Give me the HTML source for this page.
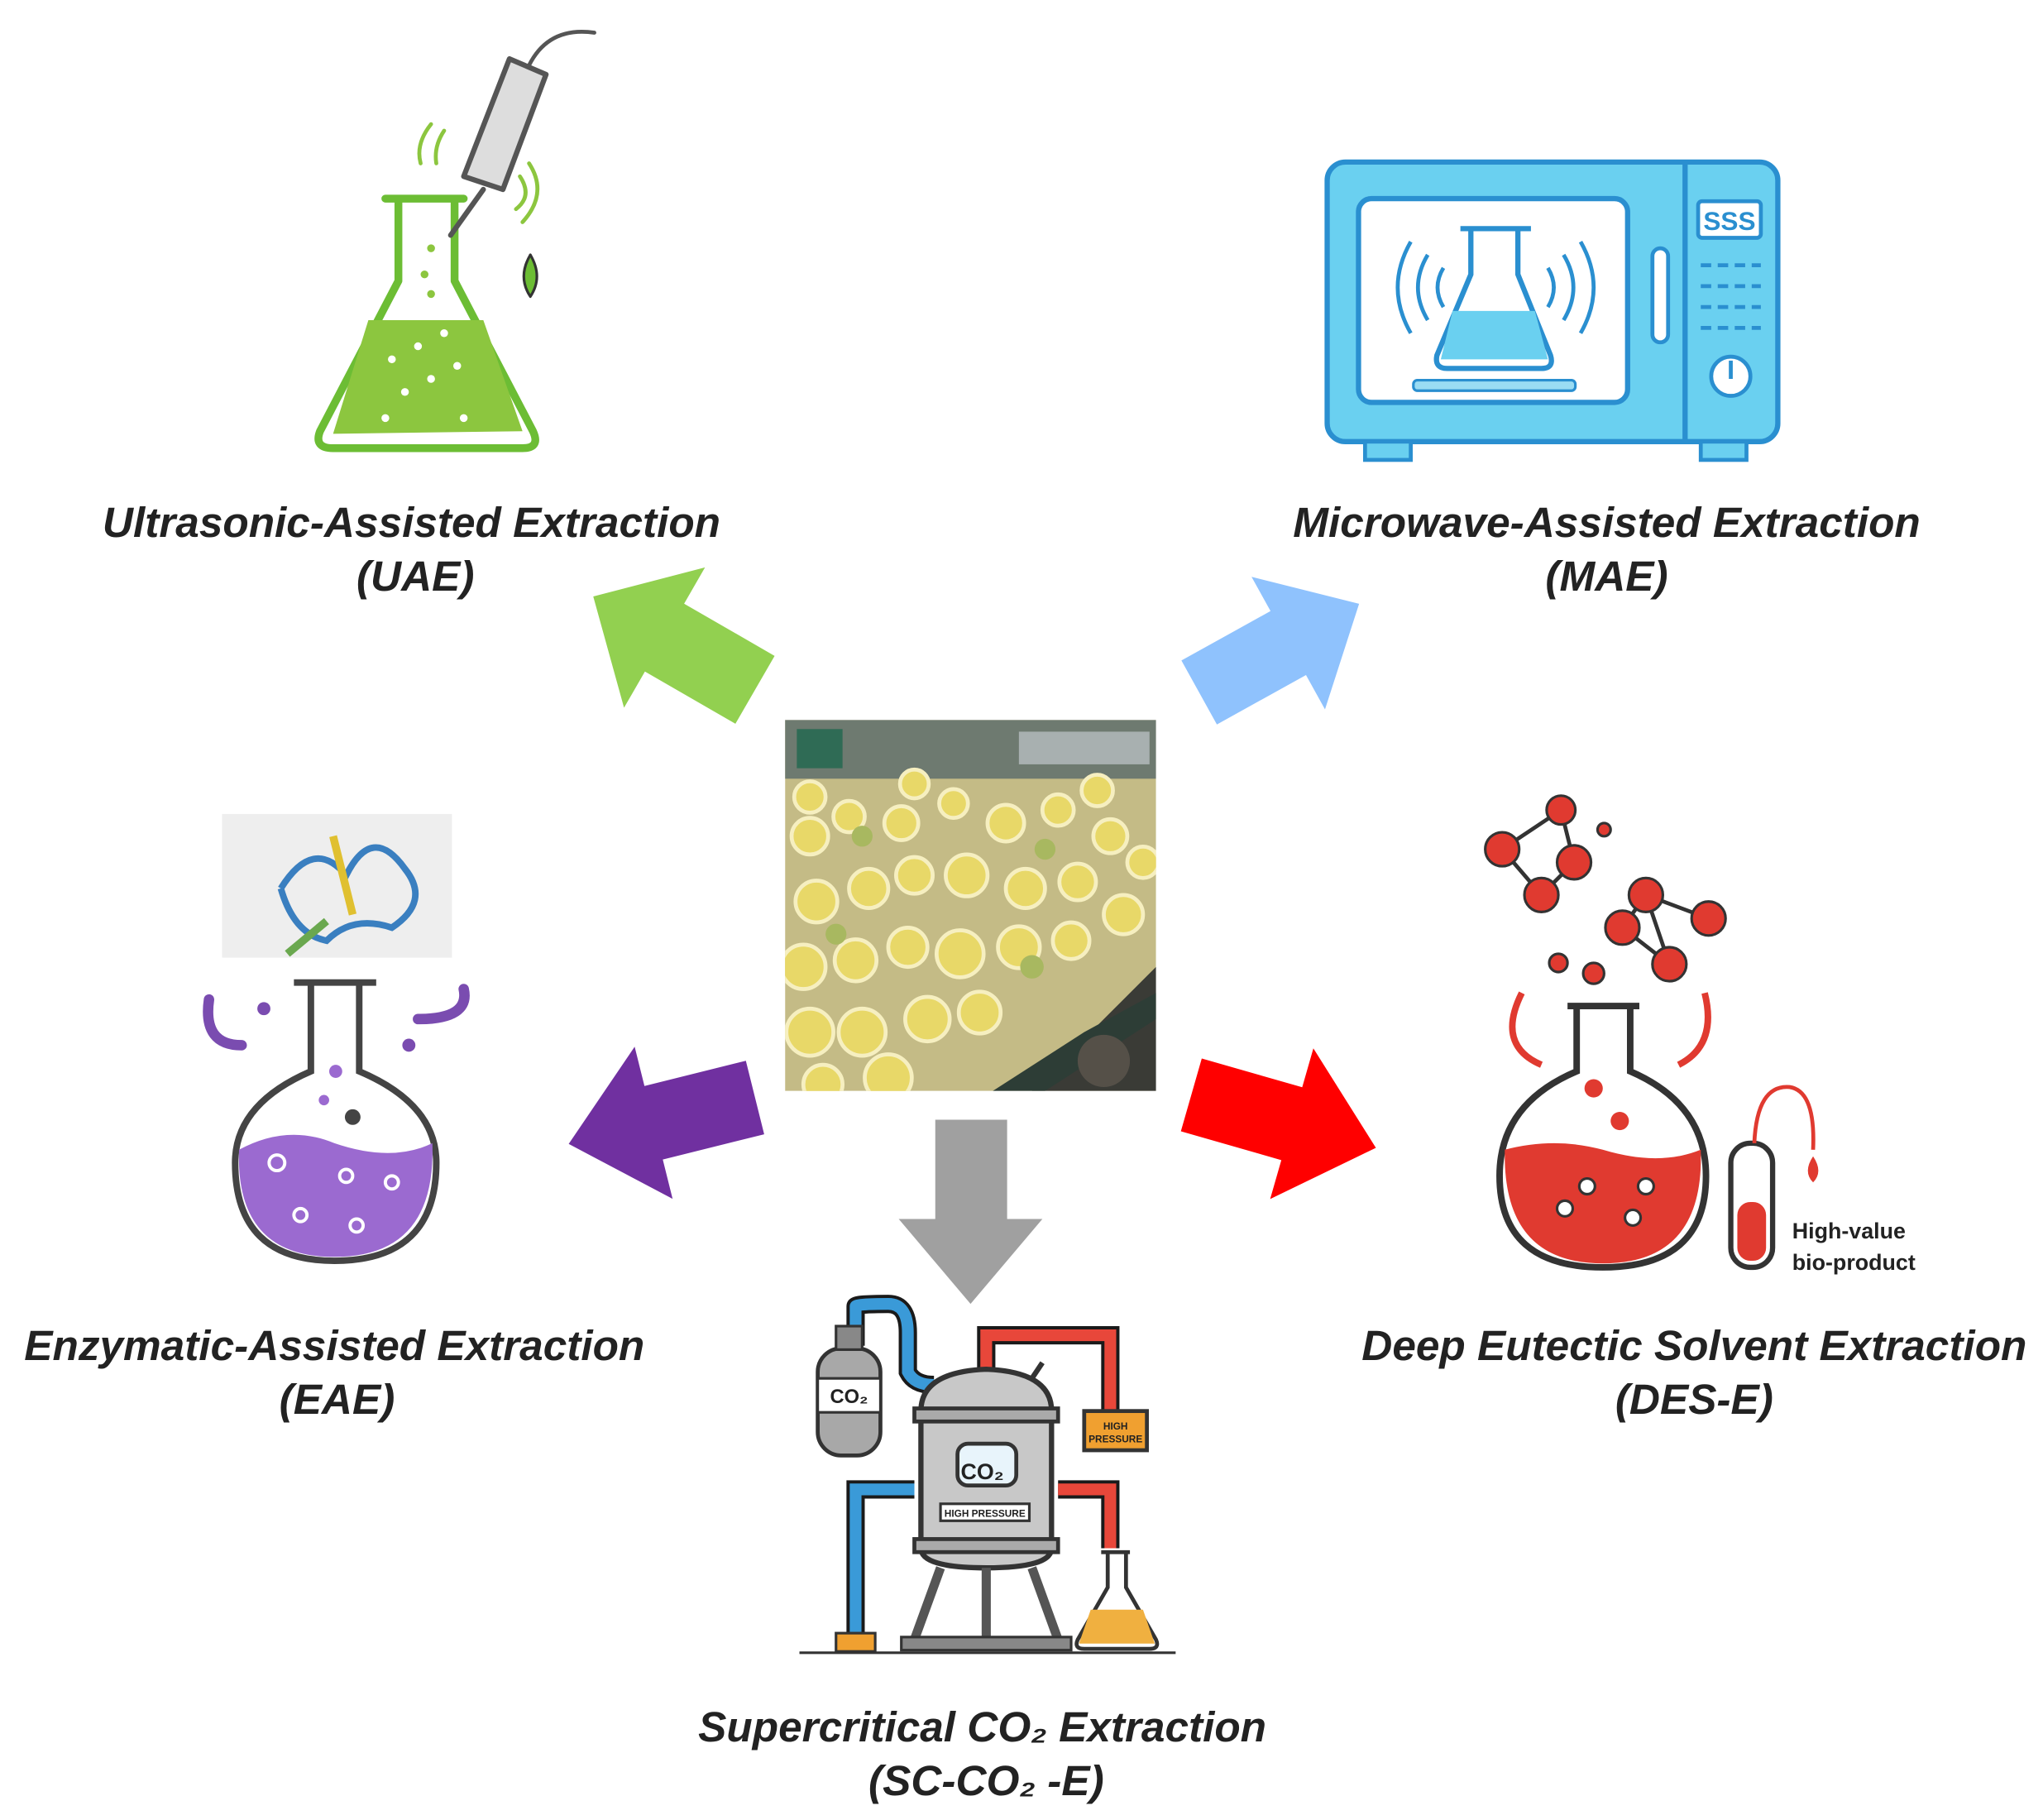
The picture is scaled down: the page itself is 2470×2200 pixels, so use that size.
<!DOCTYPE html>
<html><head><meta charset="utf-8"><style>
html,body{margin:0;padding:0;background:#fff;}
svg{display:block;}
text{font-family:"Liberation Sans",sans-serif;}
.lab{font-weight:bold;font-style:italic;font-size:32.5px;fill:#222;text-anchor:middle;}
</style></head><body>
<svg width="2470" height="2200" viewBox="0 0 1564 1393" xmlns="http://www.w3.org/2000/svg">
<rect width="1564" height="1393" fill="#fff"/>

<!-- center photo -->
<defs><clipPath id="ph"><rect x="601" y="551" width="284" height="284"/></clipPath></defs>
<g clip-path="url(#ph)">
<rect x="601" y="551" width="284" height="284" fill="#c4bb86"/>
<rect x="601" y="551" width="284" height="45" fill="#6e7a70"/>
<rect x="610" y="558" width="35" height="30" fill="#2f6b55"/>
<rect x="780" y="560" width="100" height="25" fill="#a8b0b0"/>
<polygon points="790,835 885,740 885,835" fill="#3a3b36"/>
<polygon points="760,835 830,790 885,760 885,780 800,835" fill="#2d3d36"/>
<circle cx="845" cy="812" r="20" fill="#555048"/>
<g fill="#e8d868" stroke="#f6efc0" stroke-width="3">
<circle cx="620" cy="610" r="12"/><circle cx="700" cy="600" r="11"/><circle cx="840" cy="605" r="12"/>
<circle cx="620" cy="640" r="14"/><circle cx="650" cy="625" r="12"/><circle cx="690" cy="630" r="13"/><circle cx="730" cy="615" r="11"/><circle cx="770" cy="630" r="14"/><circle cx="810" cy="620" r="12"/><circle cx="850" cy="640" r="13"/><circle cx="875" cy="660" r="12"/>
<circle cx="625" cy="690" r="16"/><circle cx="665" cy="680" r="15"/><circle cx="700" cy="670" r="14"/><circle cx="740" cy="670" r="16"/><circle cx="785" cy="680" r="15"/><circle cx="825" cy="675" r="14"/><circle cx="860" cy="700" r="15"/>
<circle cx="615" cy="740" r="17"/><circle cx="655" cy="735" r="16"/><circle cx="695" cy="725" r="15"/><circle cx="735" cy="730" r="18"/><circle cx="780" cy="725" r="16"/><circle cx="820" cy="720" r="14"/>
<circle cx="620" cy="790" r="18"/><circle cx="660" cy="790" r="18"/><circle cx="710" cy="780" r="17"/><circle cx="750" cy="775" r="16"/><circle cx="680" cy="825" r="18"/><circle cx="630" cy="830" r="15"/>
</g>
<g fill="#a8b860"><circle cx="660" cy="640" r="8"/><circle cx="800" cy="650" r="8"/><circle cx="790" cy="740" r="9"/><circle cx="640" cy="715" r="8"/></g>
</g>

<!-- arrows -->
<g>
<polygon points="0,-30 80,-30 80,-62 143,0 80,62 80,30 0,30" fill="#92d050" transform="translate(578,528) rotate(210)"/>
<polygon points="0,-28 78,-28 78,-58 140,0 78,58 78,28 0,28" fill="#8fc2fd" transform="translate(918,530) rotate(-29)"/>
<polygon points="0,-29 80,-29 80,-60 147,0 80,60 80,29 0,29" fill="#7030a0" transform="translate(578,840) rotate(166)"/>
<polygon points="0,-29 80,-29 80,-60 147,0 80,60 80,29 0,29" fill="#ff0000" transform="translate(912,838) rotate(16)"/>
<polygon points="716,857 771,857 771,933 798,933 743,998 688,933 716,933" fill="#a0a0a0"/>
</g>

<!-- UAE icon -->
<g stroke-linecap="round" stroke-linejoin="round">
<path d="M295,152 L355,152 M305,152 L305,215 L245,330 Q240,343 255,343 L400,343 Q414,343 408,330 L348,215 L348,152" fill="#fff" stroke="#6cbd34" stroke-width="6"/>
<path d="M282,245 L370,245 L400,330 L255,332 Z" fill="#8cc63f"/>
<g fill="#fff"><circle cx="300" cy="275" r="3"/><circle cx="320" cy="265" r="3"/><circle cx="340" cy="255" r="3"/><circle cx="350" cy="280" r="3"/><circle cx="310" cy="300" r="3"/><circle cx="330" cy="290" r="3"/><circle cx="295" cy="320" r="3"/><circle cx="355" cy="320" r="3"/></g>
<g fill="#8cc63f"><circle cx="330" cy="190" r="3"/><circle cx="325" cy="210" r="3"/><circle cx="330" cy="225" r="3"/></g>
<path d="M355,135 L390,45 L418,57 L385,145 Z" fill="#ddd" stroke="#555" stroke-width="4"/>
<path d="M370,145 L345,180" stroke="#555" stroke-width="4"/>
<path d="M405,50 Q420,20 455,25" fill="none" stroke="#555" stroke-width="3"/>
<path d="M330,95 Q318,110 322,125 M340,100 Q332,112 334,125 M398,135 Q408,150 395,160 M405,125 Q420,148 400,170" fill="none" stroke="#8cc63f" stroke-width="3"/>
<path d="M406,195 Q396,212 406,227 Q416,212 406,195" fill="#6cbd34" stroke="#333" stroke-width="2"/>
</g>

<!-- MAE icon -->
<g>
<rect x="1016" y="124" width="345" height="214" rx="14" fill="#6ad0f0" stroke="#2a8fd0" stroke-width="4"/>
<rect x="1040" y="152" width="206" height="156" rx="10" fill="#fff" stroke="#2a8fd0" stroke-width="4"/>
<line x1="1290" y1="124" x2="1290" y2="338" stroke="#2a8fd0" stroke-width="4"/>
<rect x="1300" y="154" width="48" height="28" rx="3" fill="#fff" stroke="#2a8fd0" stroke-width="3"/>
<text x="1324" y="176" font-size="20" font-weight="bold" text-anchor="middle" fill="#2a8fd0">SSS</text>
<g stroke="#2a8fd0" stroke-width="3"><line x1="1302" y1="203" x2="1348" y2="203" stroke-dasharray="8,5"/><line x1="1302" y1="219" x2="1348" y2="219" stroke-dasharray="8,5"/><line x1="1302" y1="235" x2="1348" y2="235" stroke-dasharray="8,5"/><line x1="1302" y1="251" x2="1348" y2="251" stroke-dasharray="8,5"/></g>
<circle cx="1325" cy="288" r="15" fill="#fff" stroke="#2a8fd0" stroke-width="3"/>
<line x1="1325" y1="276" x2="1325" y2="290" stroke="#2a8fd0" stroke-width="3"/>
<rect x="1265" y="190" width="12" height="72" rx="6" fill="#fff" stroke="#2a8fd0" stroke-width="3"/>
<rect x="1045" y="338" width="35" height="14" fill="#6ad0f0" stroke="#2a8fd0" stroke-width="3"/>
<rect x="1302" y="338" width="35" height="14" fill="#6ad0f0" stroke="#2a8fd0" stroke-width="3"/>
<rect x="1082" y="291" width="124" height="8" rx="3" fill="#9adcf3" stroke="#2a8fd0" stroke-width="2"/>
<path d="M1118,175 L1172,175 M1126,175 L1126,210 L1100,272 Q1098,282 1108,282 L1180,282 Q1190,282 1187,272 L1162,210 L1162,175" fill="#fff" stroke="#2a8fd0" stroke-width="4"/>
<path d="M1112,238 L1175,238 L1185,275 L1103,275 Z" fill="#6ad0f0"/>
<path d="M1080,185 Q1060,220 1080,255 M1093,195 Q1078,220 1093,245 M1105,205 Q1096,220 1105,235 M1210,185 Q1230,220 1210,255 M1197,195 Q1212,220 1197,245 M1185,205 Q1194,220 1185,235" fill="none" stroke="#2a8fd0" stroke-width="3"/>
</g>

<!-- EAE icon -->
<g>
<rect x="170" y="623" width="176" height="110" fill="#eee"/>
<g stroke="#3a7fc0" stroke-width="5" fill="none"><path d="M215,680 Q240,640 265,670 Q285,630 310,665 Q330,690 300,710 Q270,700 250,720 Q225,715 215,680"/></g>
<path d="M255,640 L270,700" stroke="#e0c030" stroke-width="6"/>
<path d="M220,730 L250,705" stroke="#6aa84f" stroke-width="6"/>
<path d="M225,752 L288,752 M238,752 L238,820 Q180,845 180,890 Q180,965 256,965 Q334,965 334,890 Q334,845 275,820 L275,752" fill="#fff" stroke="#444" stroke-width="5"/>
<path d="M183,880 Q220,860 256,875 Q300,890 331,875 Q334,962 256,962 Q180,962 183,880 Z" fill="#9b6ad0"/>
<g fill="none" stroke="#fff" stroke-width="2.5"><circle cx="212" cy="890" r="6"/><circle cx="265" cy="900" r="5"/><circle cx="300" cy="905" r="5"/><circle cx="230" cy="930" r="5"/><circle cx="273" cy="938" r="5"/></g>
<circle cx="257" cy="820" r="5" fill="#9b6ad0"/><circle cx="270" cy="855" r="6" fill="#444"/><circle cx="248" cy="842" r="4" fill="#9b6ad0"/>
<path d="M160,765 Q155,800 185,800" fill="none" stroke="#7a4cb0" stroke-width="8" stroke-linecap="round"/>
<path d="M355,757 Q360,780 320,780" fill="none" stroke="#7a4cb0" stroke-width="8" stroke-linecap="round"/>
<circle cx="202" cy="772" r="5" fill="#7a4cb0"/><circle cx="313" cy="800" r="5" fill="#7a4cb0"/>
</g>

<!-- DES-E icon -->
<g>
<g stroke="#333" stroke-width="3">
<line x1="1150" y1="650" x2="1195" y2="620"/><line x1="1195" y1="620" x2="1205" y2="660"/><line x1="1150" y1="650" x2="1180" y2="685"/><line x1="1180" y1="685" x2="1205" y2="660"/>
<line x1="1242" y1="710" x2="1260" y2="685"/><line x1="1260" y1="685" x2="1308" y2="703"/><line x1="1260" y1="685" x2="1278" y2="738"/><line x1="1242" y1="710" x2="1278" y2="738"/>
</g>
<g fill="#e03a30" stroke="#333" stroke-width="2">
<circle cx="1150" cy="650" r="13"/><circle cx="1195" cy="620" r="11"/><circle cx="1205" cy="660" r="13"/><circle cx="1180" cy="685" r="13"/>
<circle cx="1260" cy="685" r="13"/><circle cx="1242" cy="710" r="13"/><circle cx="1308" cy="703" r="13"/><circle cx="1278" cy="738" r="13"/>
<circle cx="1228" cy="635" r="5"/><circle cx="1193" cy="737" r="7"/><circle cx="1220" cy="745" r="8"/>
</g>
<path d="M1165,760 Q1145,800 1180,815 M1305,760 Q1315,800 1285,815" fill="none" stroke="#e03a30" stroke-width="5"/>
<path d="M1200,770 L1255,770 M1207,770 L1207,820 Q1148,845 1148,900 Q1148,970 1227,970 Q1306,970 1306,900 Q1306,845 1248,820 L1248,770" fill="#fff" stroke="#333" stroke-width="5"/>
<path d="M1152,880 Q1190,870 1227,880 Q1270,893 1302,880 Q1305,967 1227,967 Q1150,967 1152,880 Z" fill="#e03a30"/>
<g fill="#fff" stroke="#333" stroke-width="2"><circle cx="1215" cy="908" r="6"/><circle cx="1260" cy="908" r="6"/><circle cx="1198" cy="925" r="6"/><circle cx="1250" cy="932" r="6"/></g>
<circle cx="1220" cy="833" r="7" fill="#e03a30"/><circle cx="1240" cy="858" r="7" fill="#e03a30"/>
<rect x="1325" y="875" width="32" height="95" rx="15" fill="#fff" stroke="#333" stroke-width="4"/>
<rect x="1330" y="920" width="22" height="45" rx="10" fill="#e03a30"/>
<path d="M1343,875 Q1345,830 1370,832 Q1390,835 1388,880" fill="none" stroke="#e03a30" stroke-width="3"/>
<path d="M1388,885 Q1380,897 1388,905 Q1396,897 1388,885" fill="#e03a30"/>
<text x="1372" y="948" font-size="17" font-weight="bold" fill="#222">High-value</text>
<text x="1372" y="972" font-size="17" font-weight="bold" fill="#222">bio-product</text>
</g>

<!-- SC-CO2 icon -->
<g>
<path d="M655,1030 L655,1000 Q655,998 680,998 Q695,998 695,1020 L695,1050 Q700,1060 715,1060" fill="none" stroke="#1a1a1a" stroke-width="14"/>
<path d="M655,1030 L655,1000 Q655,998 680,998 Q695,998 695,1020 L695,1050 Q700,1060 715,1060" fill="none" stroke="#3a9ad8" stroke-width="9"/>
<path d="M755,1050 L755,1022 L850,1022 L850,1080" fill="none" stroke="#1a1a1a" stroke-width="14"/>
<path d="M755,1050 L755,1022 L850,1022 L850,1080" fill="none" stroke="#e8473a" stroke-width="9"/>
<rect x="626" y="1032" width="48" height="82" rx="18" fill="#a8a8a8" stroke="#333" stroke-width="3"/>
<rect x="626" y="1055" width="48" height="26" fill="#fff" stroke="#333" stroke-width="2"/>
<text x="650" y="1074" font-size="15" font-weight="bold" text-anchor="middle" fill="#222">CO₂</text>
<rect x="640" y="1015" width="20" height="18" fill="#888" stroke="#333" stroke-width="2"/>
<path d="M700,1140 L655,1140 L655,1255" fill="none" stroke="#1a1a1a" stroke-width="14"/>
<path d="M700,1140 L655,1140 L655,1255" fill="none" stroke="#3a9ad8" stroke-width="9"/>
<path d="M810,1140 L850,1140 L850,1185" fill="none" stroke="#1a1a1a" stroke-width="14"/>
<path d="M810,1140 L850,1140 L850,1185" fill="none" stroke="#e8473a" stroke-width="9"/>
<path d="M705,1080 Q705,1050 755,1048 Q805,1050 805,1080 L805,1185 Q805,1200 755,1200 Q705,1200 705,1185 Z" fill="#c8c8c8" stroke="#333" stroke-width="4"/>
<rect x="700" y="1078" width="110" height="10" fill="#aaa" stroke="#333" stroke-width="3"/>
<rect x="700" y="1178" width="110" height="10" fill="#aaa" stroke="#333" stroke-width="3"/>
<rect x="733" y="1105" width="45" height="32" rx="8" fill="#e8f4fb" stroke="#333" stroke-width="3"/>
<text x="752" y="1132" font-size="17" font-weight="bold" text-anchor="middle" fill="#222">CO₂</text>
<rect x="720" y="1151" width="68" height="13" fill="#fff" stroke="#333" stroke-width="2"/>
<text x="754" y="1161" font-size="7.5" font-weight="bold" text-anchor="middle" fill="#222">HIGH PRESSURE</text>
<path d="M790,1055 L798,1043" stroke="#333" stroke-width="4"/>
<rect x="830" y="1080" width="48" height="30" fill="#f0a030" stroke="#333" stroke-width="3"/>
<text x="854" y="1094" font-size="7.5" font-weight="bold" text-anchor="middle" fill="#222">HIGH</text>
<text x="854" y="1104" font-size="7.5" font-weight="bold" text-anchor="middle" fill="#222">PRESSURE</text>
<path d="M720,1200 L700,1255 M790,1200 L810,1255 M755,1200 L755,1255" stroke="#555" stroke-width="7"/>
<rect x="690" y="1253" width="130" height="10" fill="#888" stroke="#333" stroke-width="2"/>
<rect x="640" y="1250" width="30" height="14" fill="#f0a030" stroke="#333" stroke-width="2"/>
<line x1="612" y1="1265" x2="900" y2="1265" stroke="#333" stroke-width="2"/>
<path d="M843,1188 L865,1188 M848,1188 L848,1215 L825,1255 Q822,1262 830,1262 L880,1262 Q888,1262 885,1255 L862,1215 L862,1188" fill="#fff" stroke="#333" stroke-width="3"/>
<path d="M835,1232 L875,1232 L884,1258 L826,1258 Z" fill="#f0b040"/>
</g>

<!-- labels -->
<text class="lab" x="315" y="411">Ultrasonic-Assisted Extraction</text>
<text class="lab" x="318" y="452">(UAE)</text>
<text class="lab" x="1230" y="411">Microwave-Assisted Extraction</text>
<text class="lab" x="1230" y="452">(MAE)</text>
<text class="lab" x="256" y="1041">Enzymatic-Assisted Extraction</text>
<text class="lab" x="258" y="1082">(EAE)</text>
<text class="lab" x="1297" y="1041">Deep Eutectic Solvent Extraction</text>
<text class="lab" x="1297" y="1082">(DES-E)</text>
<text class="lab" x="752" y="1333">Supercritical CO₂ Extraction</text>
<text class="lab" x="755" y="1374">(SC-CO₂ -E)</text>
</svg>
</body></html>
